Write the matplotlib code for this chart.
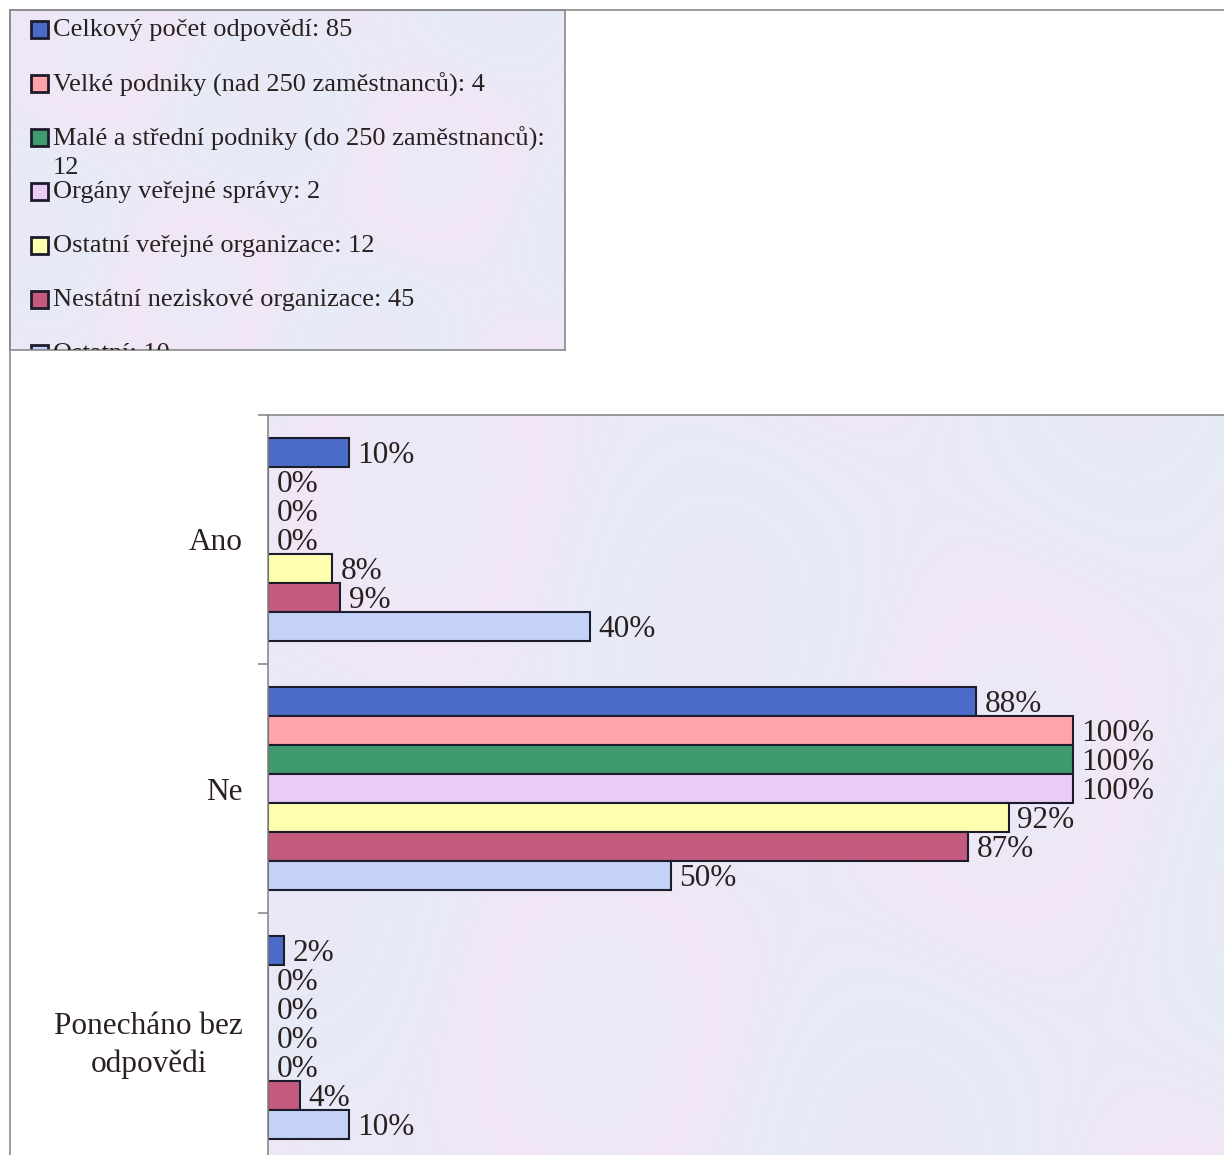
import matplotlib.pyplot as plt
import numpy as np
from matplotlib.lines import Line2D
from matplotlib.patches import Rectangle
from matplotlib.colors import LinearSegmentedColormap

plt.rcParams['font.family'] = ['Liberation Serif', 'DejaVu Serif']

categories = ["Ano", "Ne", "Ponecháno bez\nodpovědi"]
series_names = [
    "Celkový počet odpovědí: 85",
    "Velké podniky (nad 250 zaměstnanců): 4",
    "Malé a střední podniky (do 250 zaměstnanců):\n12",
    "Orgány veřejné správy: 2",
    "Ostatní veřejné organizace: 12",
    "Nestátní neziskové organizace: 45",
    "Ostatní: 10",
]
colors = ["#4a6cc8", "#ffa4ac", "#3f9a6e", "#e8ccf6", "#ffffb0", "#c45a7e", "#c4d2f8"]

ano = [10, 0, 0, 0, 8, 9, 40]
ne = [88, 100, 100, 100, 92, 87, 50]
bez = [2, 0, 0, 0, 0, 4, 10]
values = np.array([ano, ne, bez])  # rows = categories, cols = series

W, H = 1224, 1155
fig = plt.figure(figsize=(W / 100, H / 100), dpi=100)

def px_rect(x0, y0, x1, y1):
    # pixel box (top-left origin) -> figure fraction
    return [x0 / W, 1 - y1 / H, (x1 - x0) / W, (y1 - y0) / H]

# soft pastel wash like the scanned background
wash = LinearSegmentedColormap.from_list("wash", ["#efe5f7", "#e6ebf8", "#f1e6f6", "#e4edf9"])
def paint_bg(a):
    xx = np.linspace(0, 1, 200)
    yy = np.linspace(0, 1, 60)[:, None]
    g = 0.5 + 0.35 * np.sin(xx * 9.0 + yy * 2.0) * np.cos(yy * 5.0 - xx * 3.0)
    a.imshow(g, cmap=wash, vmin=0, vmax=1, aspect="auto", extent=[0, 1, 0, 1],
             transform=a.transAxes, zorder=0, interpolation="bicubic")

# outer frame lines
fig.add_artist(Line2D([10 / W, 10 / W], [0, 1 - 10 / H], color="#8a8a8a", lw=1.2))
fig.add_artist(Line2D([10 / W, 1], [1 - 10 / H, 1 - 10 / H], color="#8a8a8a", lw=1.2))

# ---- main bar chart ----
ax = fig.add_axes(px_rect(268, 415, 1234, 1162))
paint_bg(ax)
n = len(series_names)
bh = 0.1165
y = np.arange(len(categories))
for i in range(n):
    ys = y + (i - (n - 1) / 2) * bh
    ax.barh(ys, values[:, i], height=bh, color=colors[i], edgecolor="#1c1c2c",
            linewidth=1.5, zorder=2)
    for yy, v in zip(ys, values[:, i]):
        ax.annotate(f"{v}%", (v, yy), xytext=(6, -2.5), textcoords="offset points",
                    ha="left", va="center", fontsize=22.5, color="#2a2020", zorder=3)

ax.set_xlim(0, 120)
ax.set_ylim(len(categories) - 0.5, -0.5)
ax.set_yticks(y)
ax.set_yticklabels(categories, fontsize=22.5, color="#2a2020", linespacing=1.4,
                   multialignment="center")
ax.set_yticks(np.arange(-0.5, len(categories)), minor=True)
ax.tick_params(axis="y", which="major", length=0, pad=18)
ax.tick_params(axis="y", which="minor", length=7, color="#8a8a8a", width=1.2, direction="out")
ax.set_xticks([])
for s in ["left", "top"]:
    ax.spines[s].set_color("#8a8a8a")
    ax.spines[s].set_linewidth(1.2)
for s in ["right", "bottom"]:
    ax.spines[s].set_visible(False)

# ---- legend box ----
lg = fig.add_axes(px_rect(10, 10, 565, 350))
paint_bg(lg)
lg.set_xlim(0, 555)
lg.set_ylim(340, 0)
lg.set_xticks([])
lg.set_yticks([])
for s in lg.spines.values():
    s.set_color("#8a8a8a")
    s.set_linewidth(1.2)
for i, (name, c) in enumerate(zip(series_names, colors)):
    yc = 19 + 54 * i
    lg.add_patch(Rectangle((20.5, yc - 8.5), 17, 17, facecolor=c, edgecolor="#1c1c2c",
                           linewidth=2, clip_on=True, zorder=2))
    lg.text(43, yc - 10, name, ha="left", va="top", fontsize=19, color="#2a2020",
            linespacing=1.3, clip_on=True, zorder=3)

fig.savefig("out.png", dpi=100)
